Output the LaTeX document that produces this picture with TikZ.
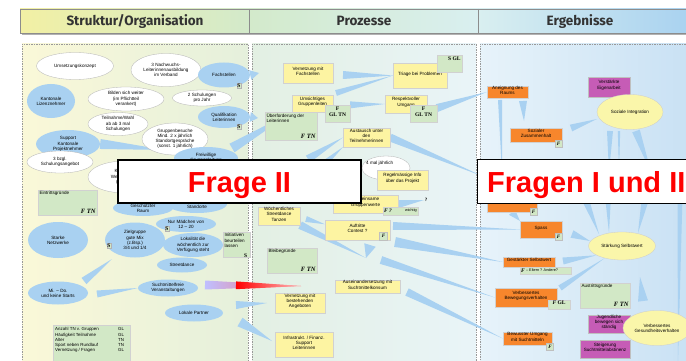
\documentclass[tikz,border=0pt]{standalone}
\usepackage{fontspec}
\setmainfont{Liberation Sans}
\newfontfamily\hdrfont{Fira Sans}
\newfontfamily\sernf{Liberation Serif}
\usetikzlibrary{shapes.geometric,calc,fit}

\definecolor{blueel}{HTML}{A9D1F1}
\definecolor{wedgec}{HTML}{A9D1F1}
\definecolor{yboxc}{HTML}{FDF4A2}
\definecolor{yelc}{HTML}{FAF6AA}
\definecolor{gboxc}{HTML}{D2E8C6}
\definecolor{oboxc}{HTML}{F7862C}
\definecolor{mboxc}{HTML}{C65CB6}
\definecolor{hy}{HTML}{F2F0A4}
\definecolor{hg}{HTML}{D3EACB}
\definecolor{hc}{HTML}{D9EFF0}
\definecolor{hb}{HTML}{A9D2F0}
\definecolor{py1}{HTML}{FAF8D8}
\definecolor{py2}{HTML}{E5F0DC}
\definecolor{pm1}{HTML}{E3F0E3}
\definecolor{pm2}{HTML}{E9F4F8}
\definecolor{pr1}{HTML}{E7F3FA}
\definecolor{pr2}{HTML}{C9E1F4}

\newcommand\tf{\fontsize{4.6}{5.2}\selectfont}
% tapered connector: [half width of the wide end]{wide end}{tip}
\newcommand\taper[3][3]{%
  \fill[wedgec] ($#2!#1pt!90:#3$) -- ($#2!#1pt!-90:#3$) -- #3 -- cycle;}

\pgfdeclarelayer{panel}
\pgfdeclarelayer{wedge}
\pgfdeclarelayer{front}
\pgfsetlayers{panel,wedge,main,front}

\begin{document}
\begin{tikzpicture}[x=1pt,y=-1pt,
  wel/.style={ellipse, fill=white, draw=black!30, line width=0.3pt, inner sep=0pt, align=center, font=\tf},
  bel/.style={ellipse, fill=blueel, inner sep=0pt, align=center, font=\tf},
  yel/.style={ellipse, fill=yelc, draw=black!20, line width=0.3pt, inner sep=0pt, align=center, font=\tf},
  ybox/.style={rectangle, fill=yboxc, draw=black!18, line width=0.3pt, inner sep=0pt, align=center, font=\tf},
  gbox/.style={rectangle, fill=gboxc, draw=black!18, line width=0.3pt, inner sep=0pt, align=center},
  obox/.style={rectangle, fill=oboxc, draw=black!18, line width=0.3pt, inner sep=0pt, align=center, font=\tf},
  mbox/.style={rectangle, fill=mboxc, draw=black!25, line width=0.3pt, inner sep=0pt, align=center, font=\tf},
  sbox/.style={rectangle, fill=gboxc, draw=black!30, line width=0.3pt, inner sep=0.7pt, font=\sernf\bfseries\fontsize{5.5}{5.5}\selectfont},
  fsq/.style={rectangle, fill=gboxc, draw=black!25, line width=0.3pt, minimum size=7pt, inner sep=0pt, font=\sernf\bfseries\itshape\fontsize{5}{5}\selectfont},
  ftn/.style={inner sep=1.5pt, font=\sernf\bfseries\itshape\fontsize{6.5}{6.5}\selectfont},
  glab/.style={inner sep=1.5pt, anchor=north west, font=\tf, align=left},
  ser/.style={font=\sernf\bfseries\fontsize{5.5}{6}\selectfont, align=center},
  hdr/.style={font=\hdrfont\bfseries\fontsize{13.5}{13.5}\selectfont, text=black!80, anchor=base},
  fragebox/.style={rectangle, fill=white, draw=black, line width=1.3pt},
  fragetext/.style={font=\bfseries\fontsize{29}{29}\selectfont, text=red, inner sep=0pt}
]
\useasboundingbox (0,0) rectangle (686,361);

% ---------- panels and header ----------
\begin{pgfonlayer}{panel}
  \fill[white] (0,0) rectangle (686,361);
  \shade[left color=py1, right color=py2] (22,44) rectangle (248,365);
  \shade[left color=pm1, right color=pm2] (252,44) rectangle (476,365);
  \shade[left color=pr1, right color=pr2] (480,44) rectangle (690,365);
  \draw[black!40, line width=0.6pt, dash pattern=on 1.5pt off 1pt] (22,365) -- (22,44) -- (248,44) -- (248,365);
  \draw[black!40, line width=0.6pt, dash pattern=on 1.5pt off 1pt] (252,365) -- (252,44) -- (476,44) -- (476,365);
  \draw[black!40, line width=0.6pt, dash pattern=on 1.5pt off 1pt] (480,365) -- (480,44) -- (690,44);
  \fill[black!30] (22,33) rectangle (690,35);
  \shade[left color=hy, right color=hg] (20,9) rectangle (249,33);
  \shade[left color=hg, right color=hc] (249,9) rectangle (478,33);
  \shade[left color=hc, right color=hb] (478,9) rectangle (690,33);
  \draw[black!45, line width=0.6pt] (20,9) rectangle (690,33);
  \draw[black!45, line width=0.6pt] (249,9) -- (249,33) (478,9) -- (478,33);
\end{pgfonlayer}
\node[hdr] (hstruk) at (135,26) {Struktur/Organisation};
\node[hdr] (hproz) at (364,26) {Prozesse};
\node[hdr] (herg) at (580,26) {Ergebnisse};

% ---------- Struktur / Organisation ----------
\node[wel, minimum width=77pt, minimum height=27pt] (umsetz) at (75,66) {Umsetzungskonzept};
\node[wel, minimum width=70pt, minimum height=33pt] (nachw) at (166,70) {3 Nachwuchs-\\Leiterinnenausbildung\\im Verband};
\node[bel, minimum width=52pt, minimum height=25pt] (fachst) at (224,75) {Fachstellen};
\node[sbox] (sfach) at (239,86) {S};
\node[bel, minimum width=48pt, minimum height=34pt] (kantliz) at (51,101) {Kantonale\\Lizenznehmer};
\node[wel, minimum width=76pt, minimum height=24pt] (bilden) at (126,99) {Bilden sich weiter\\(im Pflichtteil\\verankert)};
\node[wel, minimum width=59pt, minimum height=16pt] (zweisch) at (202,98) {2 Schulungen\\pro Jahr};
\node[bel, minimum width=52pt, minimum height=22pt] (quali) at (224,117) {Qualifikation\\Leiterinnen};
\node[sbox] (squali) at (239,127) {S};
\node[wel, minimum width=60pt, minimum height=23pt] (teiln) at (118,124) {Teilnahme/Wahl\\ab ab 3 mal\\Schulungen};
\node[wel, minimum width=66pt, minimum height=32pt] (grbes) at (175,139) {Gruppenbesuche\\Mind. 2 x jährlich\\Standortgespräche\\(sonst. 1 jährlich)};
\node[bel, minimum width=64pt, minimum height=28pt] (support) at (68,144) {Support\\Kantonale\\Projektnehmer};
\node[bel, minimum width=64pt, minimum height=22pt] (freiw) at (206,158) {Freiwillige\\Gruppenleitung};
\node[wel, minimum width=66pt, minimum height=22pt] (schulang) at (60,162) {3 bzgl.\\Schulungsangebot};
\node[wel, minimum width=74pt, minimum height=32pt] (kantwb) at (125,177) {Kantonale\\Weiterbildung\\(jährlich)};
\node[gbox, fit={(38,190) (97,215)}] (eintritt) {};
\node[glab] (eintrittl) at (eintritt.north west) {Eintrittsgründe};
\node[ftn, anchor=south east] (eintrittf) at (eintritt.south east) {F TN};
\node[bel, minimum width=60pt, minimum height=16pt] (raum) at (143,208) {Geschützter\\Raum};
\node[bel, minimum width=60pt, minimum height=18pt] (standort) at (197,204) {Mehrere\\Standorte};
\node[bel, minimum width=60pt, minimum height=16pt] (maedchen) at (186,224) {Nur Mädchen von\\12 – 20};
\node[sbox] (smaed) at (167,229) {S};
\node[bel, minimum width=60pt, minimum height=36pt] (netzw) at (58,240) {Starke\\Netzwerke};
\node[bel, minimum width=60pt, minimum height=35pt] (zielgr) at (135,240) {Zielgruppe\\gute Mix\\(z.Bsp.)\\3/4 und 1/4};
\node[sbox] (sziel) at (109,246) {S};
\node[bel, minimum width=60pt, minimum height=24pt] (lokal) at (193,245) {Lokalität die\\wöchentlich zur\\Verfügung steht};
\node[gbox, fit={(223,232) (250,257)}] (initiativ) {};
\node[glab] (initiativl) at (initiativ.north west) {Initiativen\\beurteilen\\lassen};
\node[sbox, draw=none, fill=none, anchor=south east] (sinit) at ([xshift=-2pt,yshift=-1pt]initiativ.south east) {S};
\node[bel, minimum width=50pt, minimum height=15pt] (street) at (182,265) {Streetdance};
\node[bel, minimum width=60pt, minimum height=23pt] (mido) at (58,293) {Mi. – Do.\\und keine Starts};
\node[bel, minimum width=60pt, minimum height=17pt] (suchtfr) at (168,288) {Suchtmittelfreie\\Veranstaltungen};
\node[bel, minimum width=58pt, minimum height=17pt] (lokpart) at (194,313) {Lokale Partner};
\node[gbox, fit={(53,325) (130,362)}] (anz) {};
\node[anchor=north west, inner sep=0pt, font=\fontsize{4.4}{5.2}\selectfont] (anztab) at (55,327)
  {\begin{tabular}{@{}p{63pt}@{}l@{}}
    Anzahl TN v. Gruppen & GL\\
    Häufigkeit Teilnahme & GL\\
    Alter & TN\\
    Sport neben Rundlauf & TN\\
    Vernetzung / Fragen & GL
  \end{tabular}};

% ---------- Prozesse ----------
\node[ybox, fit={(283,63) (333,83)}] (vfach) {Vernetzung mit\\Fachstellen};
\node[ybox, fit={(393,63) (447,88)}] (triage) {Triage bei Problemen};
\node[gbox, fit={(437,55) (462,72)}] (sgl) {};
\node[ser, anchor=north east, inner sep=1.5pt] (sglt) at (sgl.north east) {S GL};
\node[ybox, fit={(292,95) (333,112)}] (umsicht) {Umsichtiges\\Gruppenleiten};
\node[gbox, ser, fit={(325,105) (350,122)}] (fgl1) {F\\GL TN};
\node[ybox, fit={(385,95) (427,113)}] (respekt) {Respektvoller\\Umgang};
\node[gbox, ser, fit={(410,105) (437,122)}] (fgl2) {F\\GL TN};
\node[gbox, fit={(265,112) (317,140)}] (ueberf) {};
\node[glab] (ueberfl) at (ueberf.north west) {Überforderung der\\Leiterinnen};
\node[ftn, anchor=south east] (ueberff) at (ueberf.south east) {F TN};
\node[ybox, fit={(343,128) (390,147)}] (austausch) {Austausch unter\\den\\Teilnehmerinnen};
\node[wel, minimum width=48pt, minimum height=24pt] (viermal) at (386,168) {};
\node[font=\tf, anchor=west, inner sep=0pt] (viermalt) at (366,163) {4 mal jährlich};
\node[ybox, fit={(377,170) (428,190)}] (regel) {Regelmässige Info\\über das Projekt};
\node[ybox, fit={(333,195) (398,213)}] (grwert) {Gemeinsame\\Gruppenwerte};
\node[gbox, fit={(383,207) (418,215)}] (fwichtig) {};
\node[ftn, anchor=west, inner sep=1pt, font=\sernf\bfseries\itshape\fontsize{5.5}{5.5}\selectfont] (fwichtigf) at (fwichtig.west) {F ?};
\node[anchor=east, inner sep=1.2pt, font=\fontsize{3.8}{4}\selectfont] (fwichtigt) at (fwichtig.east) {wichtig};
\node[font=\sernf\bfseries\fontsize{5}{5}\selectfont, inner sep=0.5pt] (qm) at (426,200) {?};
\node[ybox, fit={(258,207) (300,225)}] (woech) {Wöchentliches\\Streetdance\\Tanzen};
\node[ybox, fit={(325,220) (390,240)}] (auftr) {Auftritte\\Contest ?};
\node[fsq, minimum size=8pt] (fauftr) at (383.5,236) {F};
\node[gbox, fit={(267,248) (317,273)}] (bleibe) {};
\node[glab] (bleibel) at (bleibe.north west) {Bleibegründe};
\node[ftn, anchor=south east] (bleibef) at (bleibe.south east) {F TN};
\node[ybox, fit={(335,280) (400,293)}] (ausein) {Auseinandersetzung mit\\Suchtmittelkonsum};
\node[ybox, fit={(275,293) (325,313)}] (vbest) {Vernetzung mit\\bestehenden\\Angeboten};
\node[ybox, fit={(275,332) (333,357)}] (infra) {Infrastrukt. / Finanz.\\Support\\Leiterinnen};

% ---------- Ergebnisse ----------
\node[obox, fit={(487,86) (528,98)}] (aneig) {Aneignung des\\Raums};
\node[mbox, fit={(588,77) (630,97)}] (verst) {Verstärkte\\Eigenarbeit};
\node[yel, minimum width=66pt, minimum height=35pt] (sozint) at (630,112) {Soziale Integration};
\node[obox, fit={(510,128) (562,142)}] (szus) {Sozialer\\Zusammenhalt};
\node[fsq] (fszus) at (558.5,144) {F};
\node[obox, fit={(487,190) (537,212)}] (selbst) {Selbstständigkeit};
\node[fsq] (fselbst) at (533.5,211.5) {F};
\node[obox, fit={(520,221) (562,238)}] (spass) {Spass};
\node[fsq] (fspass) at (558.5,237) {F};
\node[yel, minimum width=67pt, minimum height=28pt] (staerk) at (622,246) {Stärkung Selbstwert};
\node[obox, fit={(503,257) (555,267)}] (gestsw) {Gestärkter Selbstwert};
\node[gbox, fit={(520,267) (571,274)}] (feltern) {};
\node[anchor=west, inner sep=1pt, font=\sernf\bfseries\itshape\fontsize{5.5}{5.5}\selectfont] (felternf) at (feltern.west) {F};
\node[anchor=west, inner sep=0pt, font=\fontsize{3.8}{4}\selectfont] (felternt) at ([xshift=6pt]feltern.west) {– Eltern ? Andere?};
\node[obox, fit={(495,288) (557,307)}] (verbbew) {Verbessertes\\Bewegungsverhalten};
\node[gbox, fit={(548,300) (570,309)}, font=\sernf\bfseries\fontsize{5.5}{5.5}\selectfont] (fgl3) {\textit{F} GL};
\node[gbox, fit={(580,283) (630,308)}] (austritt) {};
\node[glab] (austrittl) at (austritt.north west) {Austrittsgründe};
\node[ftn, anchor=south east] (austrittf) at (austritt.south east) {F TN};
\node[mbox, fit={(588,315) (630,333)}] (jug) {Jugendliche\\bewegen sich\\ständig};
\node[mbox, fit={(580,340) (630,358)}] (steig) {Steigerung\\Suchtmittelabstinenz};
\node[yel, minimum width=68pt, minimum height=35pt] (gesund) at (657,328) {Verbessertes\\Gesundheitsverhalten};
\node[obox, fit={(503,332) (552,345)}] (bewumg) {Bewusster Umgang\\mit Suchtmitteln};
\node[fsq] (fbew) at (550,347) {F};

% ---------- free ends of the tapered connectors ----------
\coordinate (fachTip) at (259,73);
\coordinate (qualTip) at (258,118);
\coordinate (vfachB) at (343,75);
\coordinate (umsB) at (336,93);
\coordinate (respB) at (437,108);
\coordinate (ausB1) at (308,159);
\coordinate (ausB2) at (325,163);
\coordinate (ausTip) at (482,176);
\coordinate (woechB) at (306,219);
\coordinate (meet) at (366,258);
\coordinate (meetB) at (370,245);
\coordinate (auftB1) at (393,226);
\coordinate (auftB2) at (395,242);
\coordinate (meetB2) at (381,260);
\coordinate (ausgB) at (407,292);
\coordinate (redB) at (205,285);
\coordinate (redM) at (236,285.3);
\coordinate (redTip) at (301,286);
\coordinate (lpB1) at (236,305);
\coordinate (lpTip1) at (267,303);
\coordinate (lpB2) at (240,322);
\coordinate (lpTip2) at (272,341);
\coordinate (supTip) at (165,150);
\coordinate (zielTip) at (112,259);
\coordinate (midoB) at (84,281);
\coordinate (midoB2) at (97,294);
\coordinate (freiB) at (232,148);
\coordinate (aneigB) at (500,100);
\coordinate (aneigTip) at (502,172);
\coordinate (aneigB2) at (523,101);
\coordinate (szusTip) at (524,121);
\coordinate (szusB) at (571,128);
\coordinate (sozTip) at (597,119);
\coordinate (sozB1) at (610,131);
\coordinate (sozT1) at (609,172);
\coordinate (sozB2) at (619,131);
\coordinate (sozT2) at (619,172);
\coordinate (sozB3) at (636,131);
\coordinate (sozT3) at (651,172);
\coordinate (stB1) at (584,196);
\coordinate (stT1) at (599,234);
\coordinate (stB2) at (608,196);
\coordinate (stT2) at (609,233);
\coordinate (stB3) at (646,196);
\coordinate (stT3) at (638,233);
\coordinate (stB4) at (680,196);
\coordinate (stT4) at (678,364);
\coordinate (spB) at (572,234);
\coordinate (spTip) at (590,241);
\coordinate (gsB) at (563,261);
\coordinate (vbB) at (560,288);
\coordinate (geB) at (643,301);
\coordinate (geTip) at (640,277);

\begin{pgfonlayer}{wedge}
  % Struktur / Organisation
  \taper[5]{(support.east)}{(supTip)}
  \taper[4]{(midoB)}{(zielTip)}
  \taper[3.5]{(midoB2)}{(suchtfr.west)}
  \taper[5]{(freiB)}{(umsicht.south west)}
  \taper[5]{(fachst.east)}{(fachTip)}
  \taper[5]{(quali.east)}{(qualTip)}
  \taper[4]{(lpB1)}{(lpTip1)}
  \taper[5]{(lpB2)}{(lpTip2)}
  % red pointer towards the addiction topic: pale start, red body
  \shade[left color=blue!25!white, right color=red!60]
    ($(redB)!4.5pt!90:(redTip)$) -- ($(redB)!4.5pt!-90:(redTip)$) -- (redTip) -- cycle;
  \shade[left color=red, right color=red!25]
    ($(redM)!3.9pt!90:(redTip)$) -- ($(redM)!3.9pt!-90:(redTip)$) -- (redTip) -- cycle;
  % Prozesse
  \taper[4]{(vfachB)}{(triage.west)}
  \taper[3]{(umsB)}{(triage.west)}
  \taper[3.5]{(fgl1.north east)}{(respekt.west)}
  \taper[4]{(respB)}{(aneig.west)}
  \taper[4]{(ausB1)}{(austausch.west)}
  \taper[3]{(ausB2)}{(austausch.south west)}
  \taper[4]{(austausch.east)}{(ausTip)}
  \taper[4]{(grwert.east)}{(qm.west)}
  \taper[3]{(woechB)}{(auftr.170)}
  \taper[4]{(woech.south east)}{(meet)}
  \taper[6]{(meetB)}{(meet)}
  \taper[4]{(auftB1)}{(spass.west)}
  \taper[5]{(auftB2)}{(gestsw.west)}
  \taper[4]{(meetB2)}{(verbbew.west)}
  \taper[4]{(ausgB)}{(bewumg.west)}
  % Ergebnisse
  \taper[2]{(aneigB)}{(aneigTip)}
  \taper[4]{(aneigB2)}{(szusTip)}
  \taper[3.5]{(szusB)}{(sozTip)}
  \taper[3]{(sozB1)}{(sozT1)}
  \taper[1.2]{(sozB2)}{(sozT2)}
  \taper[4]{(sozB3)}{(sozT3)}
  \taper[4]{(stB1)}{(stT1)}
  \taper[3]{(stB2)}{(stT2)}
  \taper[4]{(stB3)}{(stT3)}
  \taper[2.5]{(stB4)}{(stT4)}
  \taper[4]{(spB)}{(spTip)}
  \taper[3.5]{(gsB)}{(staerk.200)}
  \taper[3]{(vbB)}{(staerk.215)}
  \taper[5]{(geB)}{(geTip)}
  \taper[4]{(selbst.south)}{(spass.north west)}
\end{pgfonlayer}

% ---------- question banners ----------
\begin{pgfonlayer}{front}
  \node[fragebox, minimum width=243pt, minimum height=43pt] (frage2) at (239.5,181.5) {};
  \node[fragetext, anchor=base] (frage2t) at (239.5,192) {Frage II};
  \node[fragebox, minimum width=240pt, minimum height=44pt, anchor=west] (frage12) at (477,181.5) {};
  \node[fragetext, anchor=base west] (frage12t) at (487,192) {Fragen I und II};
\end{pgfonlayer}
\end{tikzpicture}
\end{document}
